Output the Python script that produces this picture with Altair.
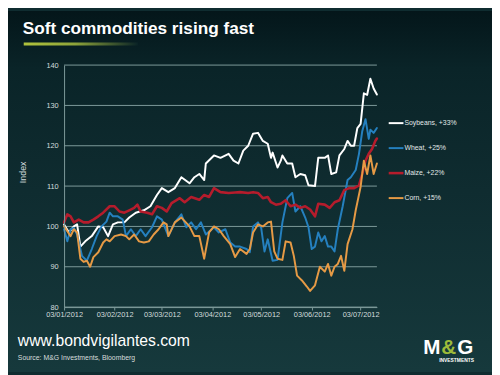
import altair as alt
import pandas as pd

START = "2012-01-03"

# ---- data (day offsets from 3 Jan 2012, index values) ----
soy_days = [0, 3, 6, 8, 10, 13, 17, 21, 24, 27, 30, 33, 37, 40, 44, 49, 53, 57, 60, 64,
            68, 72, 77, 80, 83, 86, 87, 92, 96, 101, 104, 107, 110, 113, 116, 119, 122, 125, 127, 128,
            131, 133, 134, 137, 140, 142, 145, 148, 150, 154, 156, 160, 162, 164, 167, 169, 172, 174, 176, 178,
            180, 182, 184, 186, 188, 190, 192]
soy_vals = [100.5, 98.5, 100, 100.5, 95, 96.3, 97.6, 100, 99.8, 97.6, 100.5, 101, 101, 102.2, 103.4, 104, 105, 107.8, 109.5, 108.5,
            109.5, 112.2, 110.7, 112.2, 113, 111.5, 115.6, 117.6, 117, 118, 116.3, 115.6, 118.8, 120, 123, 123.2, 121.2, 120.5, 117, 118.3,
            114.6, 116.3, 117.6, 115.6, 115.6, 112.2, 113, 112.7, 110.2, 110, 117, 117, 117.6, 113, 113.4, 117.6, 119.2, 121.2, 120, 120,
            124.4, 125.4, 133, 132.6, 136.6, 134.2, 132.7]

wheat_days = [0, 2, 4, 6, 8, 11, 14, 17, 20, 23, 26, 28, 30, 33, 36, 38, 41, 44, 47, 50,
              54, 57, 60, 64, 68, 72, 75, 78, 81, 84, 87, 92, 95, 99, 102, 105, 108, 112, 114, 116,
              119, 121, 123, 125, 128, 131, 134, 137, 140, 142, 145, 148, 150, 152, 154, 156, 158, 160, 162, 164,
              166, 168, 171, 174, 176, 179, 181, 183, 185, 187, 188, 190, 192]
wheat_vals = [99.3, 96.3, 99.3, 99.6, 98, 92.7, 91.5, 94.4, 97.6, 100, 101.2, 103.4, 102.5, 102.5, 101.7, 97.6, 99.3, 97.6, 99.3, 97.6,
              99.8, 102.5, 101.7, 97.6, 101, 103, 99.8, 101, 99.3, 101, 98, 99.8, 98.5, 99.3, 96, 95, 95, 94.4, 93.6, 100,
              101, 99.6, 93.8, 96.8, 91.5, 91.7, 101, 107, 108.3, 103.7, 105, 102.2, 99.8, 94.4, 95, 98.5, 96.3, 97.6, 95, 95,
              93.8, 99.3, 105, 111.5, 112.2, 114, 118, 123.6, 126.6, 121.7, 124, 123.2, 124.4]

maize_days = [0, 2, 4, 6, 9, 12, 15, 18, 21, 24, 28, 31, 34, 37, 40, 43, 45, 47, 51, 54,
              57, 60, 63, 66, 71, 74, 78, 83, 86, 89, 92, 96, 101, 105, 108, 113, 116, 119, 122, 125,
              127, 130, 133, 136, 139, 142, 145, 148, 151, 154, 156, 160, 163, 166, 169, 172, 175, 178, 181, 183,
              185, 187, 189, 191, 192]
maize_vals = [101, 103, 102.5, 101, 101.7, 101, 101, 101.7, 102.5, 103.4, 105, 105, 103.7, 103.4, 104, 104.6, 105.4, 103.7, 103.4, 103,
              105, 104.6, 103.7, 105.8, 107, 106, 107.3, 106.6, 107.8, 107.3, 109.5, 108.5, 108.3, 108.4, 108.5, 108.3, 108.5, 108.3, 107, 107.3,
              106, 105.4, 105.6, 106.5, 105, 105.4, 104.6, 105, 104.2, 102.5, 105.6, 105.4, 104.6, 106, 106.5, 109, 109.5, 109.5, 110.2, 113,
              116.3, 118, 119.2, 121.2, 121.8]

corn_days = [0, 2, 4, 6, 8, 10, 12, 14, 16, 18, 21, 24, 26, 28, 31, 35, 38, 40, 43, 46,
             49, 52, 55, 58, 61, 63, 64, 68, 72, 77, 80, 83, 86, 89, 92, 95, 98, 102, 105, 108,
             112, 114, 116, 119, 122, 125, 127, 129, 131, 134, 136, 139, 141, 143, 146, 149, 151, 154, 157, 160,
             162, 164, 166, 168, 170, 172, 174, 177, 179, 182, 184, 186, 188, 190, 192]
corn_vals = [100, 98.8, 97.6, 99.3, 98.5, 92, 91.2, 91.5, 90, 92.4, 93.6, 96, 96.8, 96.3, 97.6, 98, 97.6, 96.8, 98, 96.3,
             96, 96.3, 98, 99.3, 101, 100.5, 97.6, 101, 102.2, 100, 97.6, 97.6, 92, 98.5, 100, 99.3, 97.6, 95.6, 92.4, 94.4,
             93.2, 94.4, 98.5, 100.5, 100, 101, 101.2, 93.8, 92, 91.7, 96.3, 96, 92.7, 87.8, 86.6, 85.1, 84, 85.4, 90, 88.8,
             90.7, 87.8, 90, 90.7, 92.7, 89, 95.6, 99.3, 104, 109.8, 116.3, 113, 117.6, 113, 115.6]

legend_labels = ["Soybeans, +33%", "Wheat, +25%", "Maize, +22%", "Corn, +15%"]
series_colors = ["#ffffff", "#2580bf", "#b51c2c", "#e69a45"]
series_widths = [2, 2, 2.6, 2]
y_ticks = [80, 90, 100, 110, 120, 130, 140]
x_tick_months = [1, 2, 3, 4, 5, 6, 7]

TITLE = "Soft commodities rising fast"
SITE = "www.bondvigilantes.com"
SOURCE = "Source: M&G Investments, Bloomberg"

FONT = "Liberation Sans, Arial, sans-serif"
LABEL_COLOR = "#d3dcdc"
GRID_COLOR = "#7e9b9b"

W, H = 318, 246


def frame(days, vals):
    d = pd.Timestamp(START) + pd.to_timedelta(days, unit="D")
    return pd.DataFrame({"date": d, "value": vals})


frames = [frame(soy_days, soy_vals), frame(wheat_days, wheat_vals),
          frame(maize_days, maize_vals), frame(corn_days, corn_vals)]

x_scale = alt.Scale(domain=[alt.DateTime(year=2012, month=1, date=3),
                            alt.DateTime(year=2012, month=7, date=13)])
y_scale = alt.Scale(domain=[80, 140], nice=False, zero=False)

x_axis = alt.Axis(values=[alt.DateTime(year=2012, month=m, date=3) for m in x_tick_months],
                  format="%d/%m/%Y", title=None, grid=False, labelFlush=False, labelOverlap=False,
                  labelFont=FONT, labelFontSize=7.5, labelColor=LABEL_COLOR, labelPadding=1,
                  tickSize=3, tickColor=GRID_COLOR, domainColor=GRID_COLOR, zindex=1)
y_axis = alt.Axis(values=y_ticks, title=None, grid=False, ticks=False, labelFlush=False,
                  labelOverlap=False, labelFont=FONT, labelFontSize=7.5, labelColor=LABEL_COLOR,
                  labelPadding=6, domainColor=GRID_COLOR, zindex=1)

one = alt.Data(values=[{}])

# background gradient over the whole canvas
bg = alt.Chart(one).mark_rect(
    color=alt.LinearGradient(gradient="linear", x1=0, x2=0, y1=0, y2=1,
                             stops=[alt.GradientStop(color="#04161a", offset=0),
                                    alt.GradientStop(color="#0a2428", offset=0.16),
                                    alt.GradientStop(color="#0f2c30", offset=0.5),
                                    alt.GradientStop(color="#16393c", offset=1)])
).encode(x=alt.value(-57), x2=alt.value(435), y=alt.value(-55), y2=alt.value(312))

grid = alt.Chart(pd.DataFrame({"value": y_ticks})).mark_rule(color=GRID_COLOR, strokeWidth=1).encode(
    y=alt.Y("value:Q", scale=y_scale, axis=y_axis), x=alt.value(0), x2=alt.value(W))

layers = [bg, grid]
for i in [0, 1, 2, 3]:
    layers.append(
        alt.Chart(frames[i]).mark_line(color=series_colors[i], strokeWidth=series_widths[i],
                                       strokeJoin="round", strokeCap="round").encode(
            x=alt.X("date:T", scale=x_scale, axis=x_axis),
            y=alt.Y("value:Q", scale=y_scale, axis=y_axis)))

# legend
for i, lab in enumerate(legend_labels):
    yy = 59 + 25.4 * i
    layers.append(alt.Chart(one).mark_rule(color=series_colors[i], strokeWidth=series_widths[i]).encode(
        x=alt.value(330), x2=alt.value(345), y=alt.value(yy)))
    layers.append(alt.Chart(one).mark_text(text=lab, align="left", baseline="middle", font=FONT,
                                           fontSize=7, color="#e2e8e8").encode(
        x=alt.value(346), y=alt.value(yy)))

# y title
layers.append(alt.Chart(one).mark_text(text="Index", angle=270, align="center", baseline="middle",
                                       font=FONT, fontSize=9, color=LABEL_COLOR).encode(
    x=alt.value(-42), y=alt.value(109)))

# title and underline
layers.append(alt.Chart(one).mark_text(text=TITLE, align="left", baseline="alphabetic",
                                       font=FONT, fontSize=17.5, fontWeight="bold", color="#ffffff").encode(
    x=alt.value(-42), y=alt.value(-32)))
layers.append(alt.Chart(one).mark_rect(
    color=alt.LinearGradient(gradient="linear", x1=0, x2=1, y1=0, y2=0,
                             stops=[alt.GradientStop(color="#b0c23c", offset=0),
                                    alt.GradientStop(color="#8ea43a", offset=0.45),
                                    alt.GradientStop(color="#0a2326", offset=1)])
).encode(x=alt.value(-41), x2=alt.value(75), y=alt.value(-23), y2=alt.value(-20)))

# footer
layers.append(alt.Chart(one).mark_text(text=SITE, align="left", baseline="alphabetic", font=FONT,
                                       fontSize=16, color="#ffffff").encode(
    x=alt.value(-47), y=alt.value(286)))
layers.append(alt.Chart(one).mark_text(text=SOURCE, align="left", baseline="alphabetic", font=FONT,
                                       fontSize=7, color="#d8dede").encode(
    x=alt.value(-47), y=alt.value(300)))

# logo
for txt, xx, al, col in [("M", 365, "left", "#ffffff"), ("G", 416, "right", "#ffffff"),
                         ("&", 391, "center", "#9dbb3a")]:
    layers.append(alt.Chart(one).mark_text(text=txt, align=al, baseline="alphabetic", font=FONT,
                                           fontSize=21, fontWeight="bold", color=col).encode(
        x=alt.value(xx), y=alt.value(294)))
layers.append(alt.Chart(one).mark_text(text="INVESTMENTS", align="center", baseline="alphabetic", font=FONT,
                                       fontSize=5, fontWeight="bold", color="#ffffff").encode(
    x=alt.value(399), y=alt.value(302)))

chart = alt.layer(*layers).properties(
    width=W, height=H,
    autosize=alt.AutoSizeParams(type="none"),
    padding={"left": 57, "top": 55, "right": 117, "bottom": 66},
    background="#0f2c30",
).configure_view(stroke=None)

chart.save("out.html", embed_options={"renderer": "svg", "actions": False})
